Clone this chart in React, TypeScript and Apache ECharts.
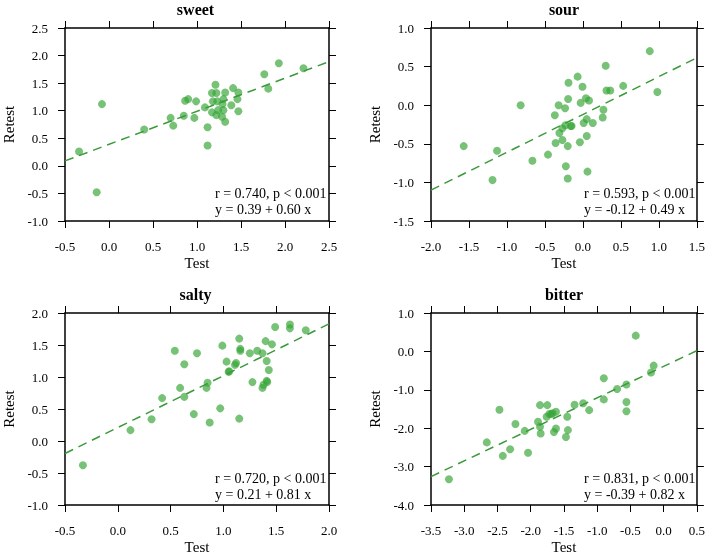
import React, { useEffect, useRef } from "react";
import * as echarts from "echarts";

const panelTitles = ["sweet", "sour", "salty", "bitter"];

const sweetTest = [-0.34, -0.14, -0.08, 0.40, 0.70, 0.73, 0.85, 0.865, 0.90, 0.97, 0.99, 1.09, 1.12, 1.12, 1.17, 1.18, 1.17, 1.21, 1.22, 1.23, 1.24, 1.22, 1.285, 1.30, 1.30, 1.32, 1.29, 1.32, 1.39, 1.41, 1.46, 1.47, 1.47, 1.765, 1.81, 1.93, 2.21];
const sweetRetest = [0.26, -0.48, 1.12, 0.66, 0.87, 0.73, 0.91, 1.18, 1.21, 0.87, 1.17, 1.06, 0.70, 0.37, 1.32, 1.17, 0.97, 1.47, 1.32, 1.17, 1.01, 0.92, 0.89, 1.01, 1.21, 1.33, 1.12, 0.80, 1.10, 1.41, 1.21, 1.33, 0.99, 1.66, 1.40, 1.86, 1.77];

const sourTest = [-1.57, -1.19, -1.13, -0.82, -0.665, -0.46, -0.37, -0.36, -0.32, -0.31, -0.27, -0.27, -0.235, -0.23, -0.225, -0.20, -0.20, -0.195, -0.19, -0.16, -0.15, -0.07, -0.04, -0.03, -0.006, 0.01, 0.04, 0.05, 0.05, 0.06, 0.08, 0.13, 0.26, 0.27, 0.30, 0.31, 0.36, 0.53, 0.88, 0.98];
const sourRetest = [-0.53, -0.97, -0.59, 0.0, -0.72, -0.64, -0.13, -0.49, 0.0, -0.36, -0.30, -0.45, -0.04, -0.26, -0.79, -0.53, -0.95, 0.08, 0.29, -0.27, -0.27, 0.37, -0.48, 0.03, 0.24, -0.23, 0.09, -0.18, -0.40, -0.86, 0.06, -0.23, -0.16, -0.06, 0.51, 0.19, 0.19, 0.25, 0.70, 0.17];

const saltyTest = [-0.33, 0.12, 0.32, 0.42, 0.54, 0.59, 0.63, 0.63, 0.72, 0.75, 0.84, 0.85, 0.87, 0.97, 0.99, 1.03, 1.05, 1.11, 1.12, 1.15, 1.15, 1.16, 1.16, 1.25, 1.275, 1.32, 1.37, 1.37, 1.38, 1.40, 1.41, 1.41, 1.43, 1.46, 1.49, 1.63, 1.63, 1.78, 1.055, 1.415];
const saltyRetest = [-0.38, 0.17, 0.34, 0.67, 1.41, 0.83, 1.20, 0.69, 0.42, 1.37, 0.83, 0.91, 0.29, 0.51, 1.49, 1.24, 1.08, 1.19, 1.22, 1.60, 0.35, 1.41, 1.44, 1.37, 0.92, 1.41, 0.83, 1.37, 0.88, 1.56, 1.25, 0.94, 1.11, 1.51, 1.78, 1.82, 1.76, 1.73, 1.09, 0.92];

const bitterTest = [-3.23, -2.66, -2.47, -2.42, -2.31, -2.23, -2.09, -2.04, -1.89, -1.86, -1.86, -1.85, -1.75, -1.76, -1.72, -1.69, -1.67, -1.65, -1.62, -1.62, -1.47, -1.45, -1.44, -1.34, -1.21, -1.12, -0.90, -0.90, -0.70, -0.56, -0.56, -0.56, -0.42, -0.19, -0.15];
const bitterRetest = [-3.33, -2.37, -1.52, -2.72, -2.55, -1.89, -2.07, -2.64, -1.83, -1.40, -1.96, -2.14, -1.40, -1.70, -1.63, -1.63, -1.61, -2.10, -1.57, -2.01, -2.23, -1.70, -2.05, -1.39, -1.35, -1.53, -0.70, -1.25, -0.98, -0.86, -1.32, -1.56, 0.41, -0.55, -0.37];

const intercepts = [0.39, -0.12, 0.21, -0.39];
const slopes = [0.60, 0.49, 0.81, 0.82];
const statLines = ["r = 0.740, p < 0.001", "r = 0.593, p < 0.001", "r = 0.720, p < 0.001", "r = 0.831, p < 0.001"];
const eqLines = ["y = 0.39 + 0.60 x", "y = -0.12 + 0.49 x", "y = 0.21 + 0.81 x", "y = -0.39 + 0.82 x"];

const xMins = [-0.5, -2.0, -0.5, -3.5];
const xMaxs = [2.5, 1.5, 2.0, 0.5];
const xSteps = [0.5, 0.5, 0.5, 0.5];
const yMins = [-1.0, -1.5, -1.0, -4.0];
const yMaxs = [2.5, 1.0, 2.0, 1.0];
const ySteps = [0.5, 0.5, 0.5, 1.0];

const testValues = [sweetTest, sourTest, saltyTest, bitterTest];
const retestValues = [sweetRetest, sourRetest, saltyRetest, bitterRetest];

const FONT = "Liberation Serif";
const AXIS_COLOR = "#000";
const POINT_COLOR = "rgba(55,165,55,0.85)";
const LINE_COLOR = "#3a9a3a";

const grids = [
  { left: 62, top: 28, width: 267, height: 193 },
  { left: 431, top: 28, width: 266, height: 193 },
  { left: 62, top: 313, width: 267, height: 192 },
  { left: 431, top: 313, width: 266, height: 192 },
];

export default function App() {
  const ref = useRef<HTMLDivElement>(null);
  useEffect(() => {
    if (!ref.current) return;
    const chart = echarts.init(ref.current, undefined, { renderer: "svg" });
    const fmt = (v: number) => v.toFixed(1);
    const xAxis: any[] = [];
    const yAxis: any[] = [];
    const series: any[] = [];
    const graphic: any[] = [];
    const title: any[] = [];
    for (let i = 0; i < 4; i++) {
      const tick: any = { show: true, inside: false, length: 7, lineStyle: { color: AXIS_COLOR, width: 1 } };
      const line: any = { show: true, onZero: false, lineStyle: { color: AXIS_COLOR, width: 1.5 } };
      const lab: any = { color: "#000", fontFamily: FONT, fontSize: 13, margin: 19, formatter: fmt };
      const labY: any = { color: "#000", fontFamily: FONT, fontSize: 13, margin: 17, formatter: fmt };
      xAxis.push({
        type: "value", gridIndex: i, position: "bottom",
        min: xMins[i], max: xMaxs[i], interval: xSteps[i],
        axisLine: line, axisTick: tick, splitLine: { show: false }, axisLabel: lab,
        name: "Test", nameLocation: "middle", nameGap: 34,
        nameTextStyle: { fontFamily: FONT, fontSize: 15 },
      });
      xAxis.push({
        type: "value", gridIndex: i, position: "top",
        min: xMins[i], max: xMaxs[i], interval: xSteps[i],
        axisLine: line, axisTick: tick, splitLine: { show: false }, axisLabel: { show: false },
      });
      yAxis.push({
        type: "value", gridIndex: i, position: "left",
        min: yMins[i], max: yMaxs[i], interval: ySteps[i],
        axisLine: line, axisTick: tick, splitLine: { show: false }, axisLabel: labY,
        name: "Retest", nameLocation: "middle", nameGap: 49, nameRotate: 90,
        nameTextStyle: { fontFamily: FONT, fontSize: 15 },
      });
      yAxis.push({
        type: "value", gridIndex: i, position: "right",
        min: yMins[i], max: yMaxs[i], interval: ySteps[i],
        axisLine: line, axisTick: tick, splitLine: { show: false }, axisLabel: { show: false },
      });
      series.push({
        type: "scatter", xAxisIndex: 2 * i, yAxisIndex: 2 * i,
        symbolSize: 8,
        itemStyle: { color: POINT_COLOR },
        data: testValues[i].map((x, k) => [x, retestValues[i][k]]),
      });
      series.push({
        type: "line", xAxisIndex: 2 * i, yAxisIndex: 2 * i,
        symbol: "none",
        lineStyle: { color: LINE_COLOR, width: 1.5, type: [9, 6] },
        data: [
          [xMins[i], intercepts[i] + slopes[i] * xMins[i]],
          [xMaxs[i], intercepts[i] + slopes[i] * xMaxs[i]],
        ],
      });
      const g = grids[i];
      title.push({
        text: panelTitles[i],
        left: g.left + g.width / 2, top: g.top - 27, textAlign: "center",
        textStyle: { fontFamily: FONT, fontSize: 16, fontWeight: "bold", color: "#000" },
        padding: 0,
      });
      graphic.push({
        type: "text",
        x: g.left + 153, y: g.top + 165,
        style: { text: statLines[i], font: "14px Liberation Serif", fill: "#000", align: "left", verticalAlign: "middle" },
      });
      graphic.push({
        type: "text",
        x: g.left + 153, y: g.top + 181,
        style: { text: eqLines[i], font: "14px Liberation Serif", fill: "#000", align: "left", verticalAlign: "middle" },
      });
    }
    chart.setOption({
      animation: false,
      title,
      grid: grids.map((g) => ({ ...g })),
      xAxis, yAxis, series, graphic,
    });
    return () => chart.dispose();
  }, []);
  return <div ref={ref} style={{ position: "fixed", left: 0, top: 0, width: 708, height: 556 }} />;
}
